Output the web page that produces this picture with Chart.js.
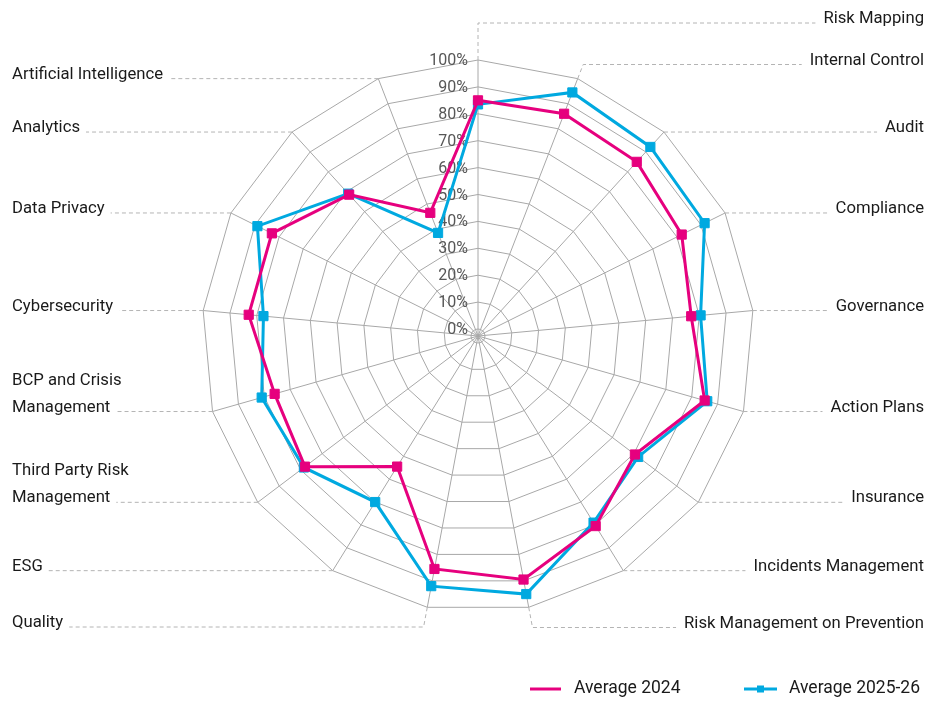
<!DOCTYPE html>
<html>
<head>
<meta charset="utf-8">
<script src="https://cdn.jsdelivr.net/npm/chart.js@4.4.1/dist/chart.umd.min.js"></script>
<style>
  html, body { margin: 0; padding: 0; background: #fff; }
  #wrap { position: relative; width: 925px; height: 704px; }
</style>
</head>
<body>
<div id="wrap"><canvas id="radar"></canvas></div>
<script>
// categories, clockwise from the top (multi-line labels as arrays)
const categories = [
  ['Risk Mapping'], ['Internal Control'], ['Audit'], ['Compliance'], ['Governance'],
  ['Action Plans'], ['Insurance'], ['Incidents Management'], ['Risk Management on Prevention'],
  ['Quality'], ['ESG'], ['Third Party Risk', 'Management'], ['BCP and Crisis', 'Management'],
  ['Cybersecurity'], ['Data Privacy'], ['Analytics'], ['Artificial Intelligence']
];
const avg2024 = [85, 86, 85, 82, 77, 85, 70.5, 80.5, 89.5, 85.5, 54.5, 78, 76, 83, 83, 68.5, 46.5];
const avg2025 = [83.5, 94.5, 92.5, 91.5, 80.5, 86, 72, 79, 95, 92, 70, 78.5, 81, 77.5, 89, 69, 38.5];
const tickValues = [0, 10, 20, 30, 40, 50, 60, 70, 80, 90, 100];
const seriesNames = ['Average 2024', 'Average 2025-26'];

const MAGENTA = '#e6007e';
const CYAN = '#00a9e0';
const GRID = '#a8a8a8';
const FONT = 'Roboto, "Liberation Sans", sans-serif';

// a few leader lines bend off to reach their label row
const leaderY = { 0: 23, 1: 64.5, 8: 627.5, 9: 627 };

const decor = {
  id: 'decor',
  beforeDatasetsDraw(chart) {
    const r = chart.scales.r;
    const ctx = chart.ctx;
    ctx.save();

    // percentage ticks, left of the top axis
    ctx.font = '16px ' + FONT;
    ctx.fillStyle = '#575757';
    ctx.textAlign = 'right';
    ctx.textBaseline = 'middle';
    tickValues.forEach(v => {
      const p = r.getPointPosition(0, r.getDistanceFromCenterForValue(v));
      ctx.fillText(v + '%', p.x - 10, p.y + 1);
    });

    // category labels with dashed leaders
    const outer = r.getDistanceFromCenterForValue(r.max);
    ctx.font = '16.7px ' + FONT;
    ctx.textBaseline = 'alphabetic';
    categories.forEach((lines, i) => {
      const p = r.getPointPosition(i, outer);
      const ly = leaderY[i] !== undefined ? leaderY[i] : p.y;
      let ex = p.x, ey = p.y;
      if (Math.abs(ly - p.y) > 0.5) {
        const t = (ly - p.y) / Math.sin(p.angle);
        ex = p.x + Math.cos(p.angle) * t;
        ey = ly;
      }
      const right = p.x >= r.xCenter - 1;
      const w = ctx.measureText(lines[lines.length - 1]).width;
      const endX = right ? 924 - w - 8 : 12 + w + 6;

      ctx.strokeStyle = '#b4b4b4';
      ctx.lineWidth = 1;
      ctx.setLineDash([4, 3]);
      ctx.beginPath();
      ctx.moveTo(p.x, p.y);
      ctx.lineTo(ex, ey);
      ctx.lineTo(endX, ly);
      ctx.stroke();
      ctx.setLineDash([]);

      ctx.fillStyle = '#1a1a1a';
      ctx.textAlign = right ? 'right' : 'left';
      lines.forEach((txt, k) => {
        const y = ly - 27 * (lines.length - 1 - k);
        ctx.fillText(txt, right ? 924 : 12, y);
      });
    });
    ctx.restore();
  },
  afterDraw(chart) {
    // legend, bottom right
    const ctx = chart.ctx;
    ctx.save();
    const y = 689;
    ctx.lineWidth = 3;
    ctx.strokeStyle = MAGENTA;
    ctx.beginPath(); ctx.moveTo(530, y); ctx.lineTo(561, y); ctx.stroke();
    ctx.strokeStyle = CYAN;
    ctx.beginPath(); ctx.moveTo(744, y); ctx.lineTo(777, y); ctx.stroke();
    ctx.fillStyle = CYAN;
    ctx.fillRect(757, y - 3.5, 7, 7);
    ctx.font = '17.5px ' + FONT;
    ctx.fillStyle = '#1a1a1a';
    ctx.textAlign = 'left';
    ctx.textBaseline = 'middle';
    ctx.fillText(seriesNames[0], 574, y);
    ctx.fillText(seriesNames[1], 789, y);
    ctx.restore();
  }
};

new Chart(document.getElementById('radar'), {
  type: 'radar',
  data: {
    labels: categories,
    datasets: [
      {
        label: seriesNames[0], data: avg2024,
        borderColor: MAGENTA, backgroundColor: MAGENTA, borderWidth: 3,
        pointStyle: 'rect', pointRadius: 6.5, pointBorderWidth: 1,
        pointBackgroundColor: MAGENTA, pointBorderColor: MAGENTA, fill: false
      },
      {
        label: seriesNames[1], data: avg2025,
        borderColor: CYAN, backgroundColor: CYAN, borderWidth: 3,
        pointStyle: 'rect', pointRadius: 6.5, pointBorderWidth: 1,
        pointBackgroundColor: CYAN, pointBorderColor: CYAN, fill: false
      }
    ]
  },
  options: {
    responsive: true,
    maintainAspectRatio: false,
    animation: false,
    events: [],
    layout: { padding: { left: 202, top: 60, right: 171, bottom: 92 } },
    plugins: { legend: { display: false }, tooltip: { enabled: false } },
    scales: {
      r: {
        min: -2.6,
        max: 100,
        afterBuildTicks: scale => { scale.ticks = tickValues.map(v => ({ value: v })); },
        ticks: { display: false },
        pointLabels: { display: false },
        grid: { color: GRID, lineWidth: 1 },
        angleLines: { color: GRID, lineWidth: 1 }
      }
    }
  },
  plugins: [decor]
});
</script>
</body>
</html>
